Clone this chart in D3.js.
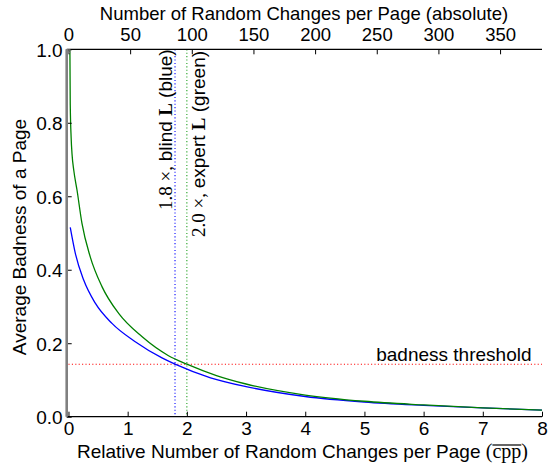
<!DOCTYPE html>
<html>
<head>
<meta charset="utf-8">
<script src="https://cdn.jsdelivr.net/npm/d3@7/dist/d3.min.js"></script>
<style>
  html, body { margin: 0; padding: 0; background: #fff; }
  svg { display: block; }
  .sans { font-family: "Liberation Sans", Arial, Helvetica, sans-serif; }
  .serif { font-family: "Liberation Serif", "DejaVu Serif", serif; }
</style>
</head>
<body>
<svg id="chart" width="554" height="463"></svg>
<script>
// Relative changes per page (cpp) and the average badness for each attacker model
const blindCpp     = [0.030, 0.115, 0.257, 0.453, 0.735, 1.128, 1.580, 1.800, 2.400, 3.000, 4.000, 5.000, 6.000, 7.000, 8.000];
const blindBadness = [0.515, 0.445, 0.372, 0.309, 0.254, 0.204, 0.160, 0.143, 0.106, 0.082, 0.055, 0.040, 0.031, 0.024, 0.018];

const expertCpp     = [0.020, 0.030, 0.045, 0.060, 0.090, 0.144, 0.228, 0.368, 0.566, 0.848, 1.240, 1.690, 2.000, 2.500, 3.000, 4.000, 5.000, 6.000, 7.000, 8.000];
const expertBadness = [1.100, 0.850, 0.760, 0.715, 0.670, 0.617, 0.526, 0.435, 0.354, 0.281, 0.218, 0.166, 0.143, 0.112, 0.089, 0.059, 0.042, 0.032, 0.024, 0.018];

const badnessThreshold = 0.1426;
const blindFactor = 1.8;
const expertFactor = 2.0;
const changesPerRelUnit = 48;   // absolute changes per page for 1.0 cpp

const bottomTicks = [0, 1, 2, 3, 4, 5, 6, 7, 8];
const topTicks = [0, 50, 100, 150, 200, 250, 300, 350];
const yTicks = [0.0, 0.2, 0.4, 0.6, 0.8, 1.0];

(function draw() {
const svg = d3.select("#chart");
const pl = 66.7, pr = 542, pt = 49.3, pb = 416.7;
const xMin = -0.03, xMax = 8;
const fs = 19;

const x = d3.scaleLinear().domain([xMin, xMax]).range([pl, pr]);
const xTop = d3.scaleLinear().domain([xMin * changesPerRelUnit, xMax * changesPerRelUnit]).range([pl, pr]);
const y = d3.scaleLinear().domain([0, 1]).range([pb, pt]);

svg.append("defs").append("clipPath").attr("id", "plotClip")
  .append("rect").attr("x", pl).attr("y", pt).attr("width", pr - pl).attr("height", pb - pt);

const plot = svg.append("g").attr("clip-path", "url(#plotClip)");

// threshold and factor markers
plot.append("line")
  .attr("x1", x(0)).attr("x2", x(8))
  .attr("y1", y(badnessThreshold)).attr("y2", y(badnessThreshold))
  .attr("stroke", "#ff0000").attr("stroke-width", 1.1).attr("stroke-dasharray", "1.1,2.3");
plot.append("line")
  .attr("x1", x(blindFactor)).attr("x2", x(blindFactor))
  .attr("y1", pt).attr("y2", pb)
  .attr("stroke", "#0000ff").attr("stroke-width", 1.1).attr("stroke-dasharray", "1.1,2.3");
plot.append("line")
  .attr("x1", x(expertFactor)).attr("x2", x(expertFactor))
  .attr("y1", pt).attr("y2", pb)
  .attr("stroke", "#20a020").attr("stroke-width", 1.1).attr("stroke-dasharray", "1.1,2.3");

const line = d3.line().curve(d3.curveMonotoneX).x(d => x(d[0])).y(d => y(d[1]));
plot.append("path")
  .datum(d3.zip(blindCpp, blindBadness))
  .attr("d", line).attr("fill", "none").attr("stroke", "#0000ff").attr("stroke-width", 1.3);
plot.append("path")
  .datum(d3.zip(expertCpp, expertBadness))
  .attr("d", line).attr("fill", "none").attr("stroke", "#008000").attr("stroke-width", 1.3);

// axes with inward ticks
const bottomAxis = d3.axisBottom(x).tickValues(bottomTicks).tickSize(-5).tickFormat(d3.format("d"));
const gB = svg.append("g").attr("transform", `translate(0,${pb})`).call(bottomAxis);
const topAxis = d3.axisTop(xTop).tickValues(topTicks).tickSize(-5).tickFormat(d3.format("d"));
const gT = svg.append("g").attr("transform", `translate(0,${pt})`).call(topAxis);
const leftAxis = d3.axisLeft(y).tickValues(yTicks).tickSize(-5).tickFormat(d3.format(".1f"));
const gL = svg.append("g").attr("transform", `translate(${pl},0)`).call(leftAxis);

[gB, gT, gL].forEach(g => {
  g.selectAll(".tick text").attr("class", "sans").attr("font-size", fs).attr("fill", "#000");
  g.selectAll(".tick line").attr("stroke", "#000").attr("stroke-width", 1);
  g.select(".domain").remove();
});
gB.selectAll(".tick text").attr("dy", null).attr("y", 435 - pb);
gT.selectAll(".tick text").attr("dy", null).attr("font-size", 18.5).attr("y", 40.5 - pt);
gL.selectAll(".tick text").attr("x", -4).attr("dy", "0.36em");

// spines
svg.append("line").attr("x1", pl).attr("x2", pr).attr("y1", pb).attr("y2", pb)
  .attr("stroke", "#000").attr("stroke-width", 1.3);
svg.append("line").attr("x1", pl).attr("x2", pr).attr("y1", pt).attr("y2", pt)
  .attr("stroke", "#000").attr("stroke-width", 1.3);
svg.append("line").attr("x1", pl).attr("x2", pl).attr("y1", pt).attr("y2", pb)
  .attr("stroke", "#808080").attr("stroke-width", 2.6);
svg.append("rect").attr("x", x(0) - 1.5).attr("y", pt + 0.5).attr("width", 3).attr("height", 3)
  .attr("fill", "none").attr("stroke", "#808080").attr("stroke-width", 1);

// axis titles
svg.append("text").attr("class", "sans").attr("font-size", 18.5)
  .attr("x", 304).attr("y", 19.5).attr("text-anchor", "middle")
  .text("Number of Random Changes per Page (absolute)");

svg.append("text").attr("class", "sans").attr("font-size", fs)
  .attr("transform", `translate(26,237) rotate(-90)`).attr("text-anchor", "middle")
  .text("Average Badness of a Page");

const xTitle = svg.append("text").attr("class", "sans").attr("font-size", fs)
  .attr("x", 302.5).attr("y", 458).attr("text-anchor", "middle");
xTitle.append("tspan").text("Relative Number of Random Changes per Page ");
xTitle.append("tspan").attr("class", "serif").attr("font-size", 20).text("(");
xTitle.append("tspan").attr("class", "serif").attr("font-size", 20).text("cpp");
xTitle.append("tspan").attr("class", "serif").attr("font-size", 20).text(")");
{
  const node = xTitle.node();
  const full = node.textContent;
  const i0 = full.indexOf("cpp");
  const s = node.getStartPositionOfChar(i0);
  const e = node.getEndPositionOfChar(i0 + 2);
  svg.append("line").attr("x1", s.x).attr("x2", e.x).attr("y1", 445).attr("y2", 445)
    .attr("stroke", "#000").attr("stroke-width", 1.2);
}

// factor annotations
function factorLabel(xPos, yEnd, factor, who, colour) {
  const t = svg.append("text").attr("font-size", fs)
    .attr("transform", `translate(${xPos},${yEnd}) rotate(-90)`);
  t.append("tspan").attr("class", "serif").text(factor.toFixed(1) + " \u00d7, ");
  t.append("tspan").attr("class", "sans").text(who + " ");
  t.append("tspan").attr("class", "serif").attr("font-weight", "bold").text("L");
  t.append("tspan").attr("class", "sans").text(" (" + colour + ")");
}
factorLabel(171.5, 210, blindFactor, "blind", "blue");
factorLabel(205, 237, expertFactor, "expert", "green");

svg.append("text").attr("class", "sans").attr("font-size", fs)
  .attr("x", 531.5).attr("y", 361).attr("text-anchor", "end")
  .text("badness threshold");
})();
</script>
</body>
</html>
